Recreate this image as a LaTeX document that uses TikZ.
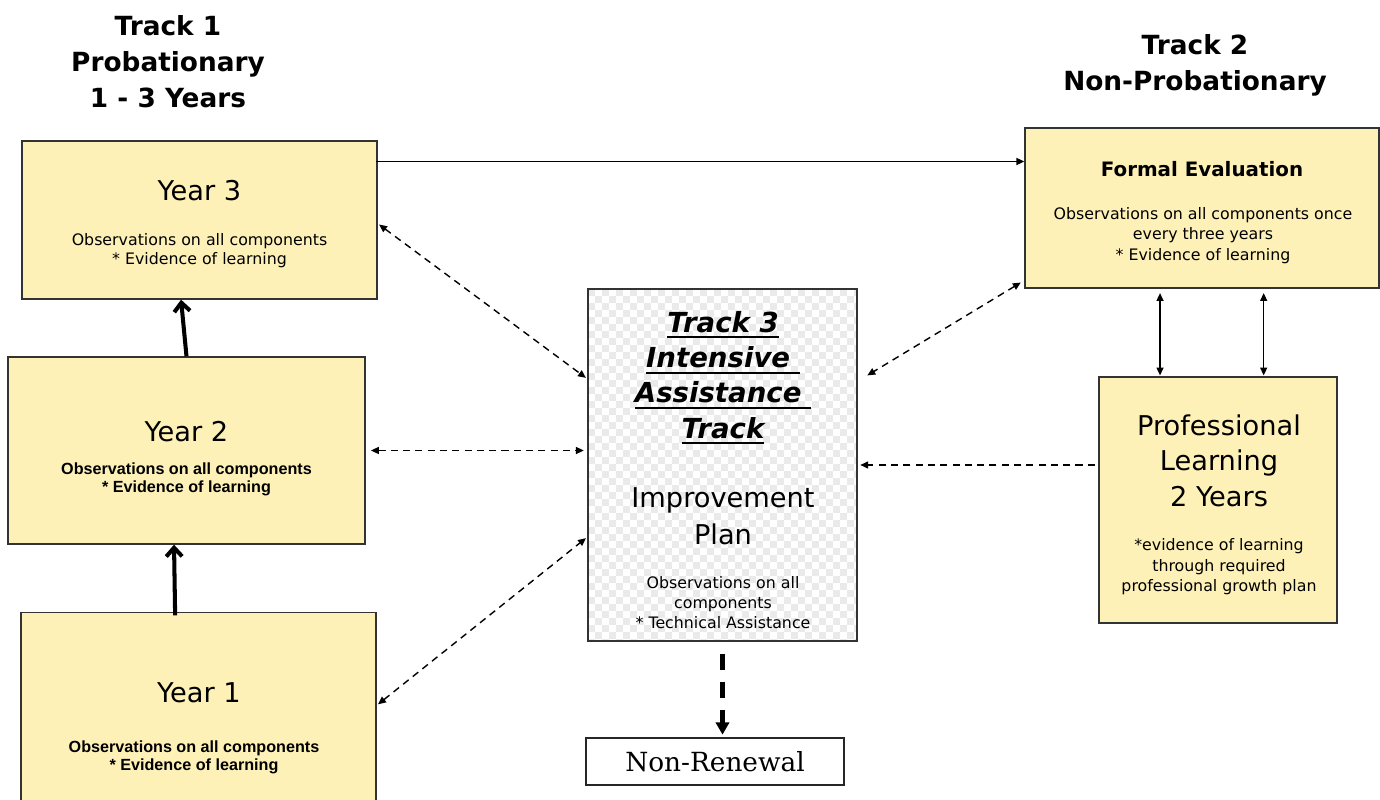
\documentclass[tikz,border=0pt]{standalone}
\usepackage{fontspec}
\setmainfont{DejaVu Sans}
\newfontfamily\arialbold{Liberation Sans}
\newfontfamily\nrfont{DejaVu Serif}
\usetikzlibrary{arrows.meta}
\definecolor{boxyellow}{RGB}{254,241,184}
\definecolor{checkgray}{RGB}{234,234,234}
\newcommand*{\TrackUL}[1]{\setbox0=\hbox{#1}\rlap{\rule[-3.4pt]{\wd0}{1.1pt}}\box0}
\tikzset{
  yearbox/.style={draw=black!80, line width=0.8pt, fill=boxyellow, inner sep=0pt},
  tracktitle/.style={font=\bfseries\fontsize{15}{20.4}\selectfont, align=center, inner sep=0pt, anchor=north},
  bigtext/.style={font=\fontsize{15.5}{20.4}\selectfont, align=center, inner sep=0pt},
  smalltext/.style={font=\fontsize{9}{11}\selectfont, align=center, inner sep=0pt, anchor=north},
  boldtext/.style={font=\arialbold\bfseries\fontsize{9.2}{10}\selectfont, align=center, inner sep=0pt, anchor=north},
  link/.style={line width=0.8pt, dash pattern=on 4pt off 3pt},
  flow/.style={line width=0.8pt},
  yearup/.style={line width=2.3pt, -{Straight Barb[length=5pt,width=9pt]}},
  exitpath/.style={line width=3pt, dash pattern=on 9.5pt off 6.5pt, -{Triangle[length=7pt,width=7.5pt]}}
}

\begin{document}
\begin{tikzpicture}[x=0.02cm, y=-0.02cm, >={Triangle[length=4.5pt,width=4pt]}]
    \path[use as bounding box, clip] (0,0) rectangle (1380,800);
    \draw (168,15) node[tracktitle] (track1) {Track 1\\Probationary\\1 - 3 Years};
    \draw (1195,34) node[tracktitle] (track2) {Track 2\\Non-Probationary};

    \draw (199.5,220) node[yearbox, minimum width=7.1cm, minimum height=3.16cm] (year3) {};
    \draw (186.5,450.5) node[yearbox, minimum width=7.14cm, minimum height=3.74cm] (year2) {};
    \draw (198.5,726.5) node[yearbox, minimum width=7.1cm, minimum height=4.56cm] (year1) {};
    \draw (1202,208) node[yearbox, minimum width=7.08cm, minimum height=3.2cm] (formal) {};
    \draw (1218,500) node[yearbox, minimum width=4.76cm, minimum height=4.92cm] (proflearn) {};
    \draw (722.5,465) node[draw=black!80, line width=0.8pt, fill=white, minimum width=5.38cm, minimum height=7.04cm,
      path picture={\foreach \i in {0,...,38} \foreach \j in {0,...,50} {\pgfmathtruncatemacro{\chk}{mod(\i+\j,2)}\ifnum\chk=0 \fill[checkgray] ([shift={(7*\i,7*\j)}]path picture bounding box.north west) rectangle ++(7,7);\fi}}] (track3) {};
    \draw (715,761.5) node[draw=black!85, line width=0.8pt, minimum width=5.16cm, minimum height=0.94cm,
      font=\nrfont\fontsize{15}{18}\selectfont] (nonrenew) {Non-Renewal};

    \draw (199.5,201) node[bigtext, anchor=base] (y3head) {Year 3};
    \draw (199.5,233) node[smalltext] (y3body) {Observations on all components\\* Evidence of learning};
    \draw (186.5,442) node[bigtext, anchor=base] (y2head) {Year 2};
    \draw (186.5,462.5) node[boldtext] (y2body) {Observations on all components\\* Evidence of learning};
    \draw (199,702) node[bigtext, anchor=base] (y1head) {Year 1};
    \draw (194,740.5) node[boldtext, font=\arialbold\bfseries\fontsize{9.2}{10.2}\selectfont] (y1body) {Observations on all components\\* Evidence of learning};
    \draw (1202,177) node[font=\bfseries\fontsize{11.3}{13}\selectfont, anchor=base, inner sep=0pt] (fehead) {Formal Evaluation};
    \draw (1203,207) node[smalltext, font=\fontsize{9}{11.6}\selectfont] (febody) {Observations on all components once\\every three years\\* Evidence of learning};
    \draw (1219,414) node[bigtext, anchor=north] (plhead) {Professional\\Learning\\2 Years};
    \draw (1219,538) node[smalltext, font=\fontsize{9}{11.8}\selectfont] (plbody) {*evidence of learning\\through required\\professional growth plan};
    \draw (723,311) node[font=\bfseries\itshape\fontsize{15.7}{20.1}\selectfont, align=center, inner sep=0pt, anchor=north] (t3head)
      {\TrackUL{Track 3}\\\TrackUL{Intensive\ }\\\TrackUL{Assistance\ }\\\TrackUL{Track}};
    \draw (723,487) node[bigtext, anchor=north, font=\fontsize{15.5}{21}\selectfont] (t3plan) {Improvement\\Plan};
    \draw (723,576) node[smalltext, font=\fontsize{9}{11.3}\selectfont] (t3body) {Observations on all\\components\\* Technical Assistance};

    \coordinate (toprow) at (0,161.5);
    \draw[flow, ->] ([xshift=-1pt]year3.east |- toprow) -- (formal.west |- toprow);
    \draw[link, <->, shorten <=1pt, shorten >=1pt] ([yshift=-2pt]year3.east) -- ([yshift=49pt]track3.west);
    \draw[link, <->, shorten <=3pt, shorten >=2pt] (year2.east) -- (track3.west |- year2.east);
    \draw[link, <->, shorten <=1pt, shorten >=1pt] ([yshift=12pt]year1.east) -- ([yshift=-41pt]track3.west);
    \draw[link, <->] ([xshift=-2pt,yshift=3.5pt]formal.south west) -- ([xshift=5.5pt,yshift=51pt]track3.east);
    \draw[link, ->, shorten <=2pt, shorten >=1.5pt] (proflearn.west |- track3.east) -- (track3.east);
    \draw[flow, <->, shorten <=0.5pt, shorten >=2.5pt] ([xshift=-33pt]proflearn.north) -- ([xshift=-33pt]proflearn.north |- formal.south);
    \draw[flow, <->, shorten <=0.5pt, shorten >=2.5pt] ([xshift=26pt]proflearn.north) -- ([xshift=26pt]proflearn.north |- formal.south);
    \draw[yearup] ([xshift=-13.3pt,yshift=-2pt]year1.north) -- ([xshift=-7.1pt]year2.south);
    \draw[yearup] (year2.north) -- ([xshift=-10.5pt]year3.south);
    \draw[exitpath, shorten >=1.5pt] ([yshift=-6.8pt]track3.south) -- (track3.south |- nonrenew.north);
\end{tikzpicture}
\end{document}
